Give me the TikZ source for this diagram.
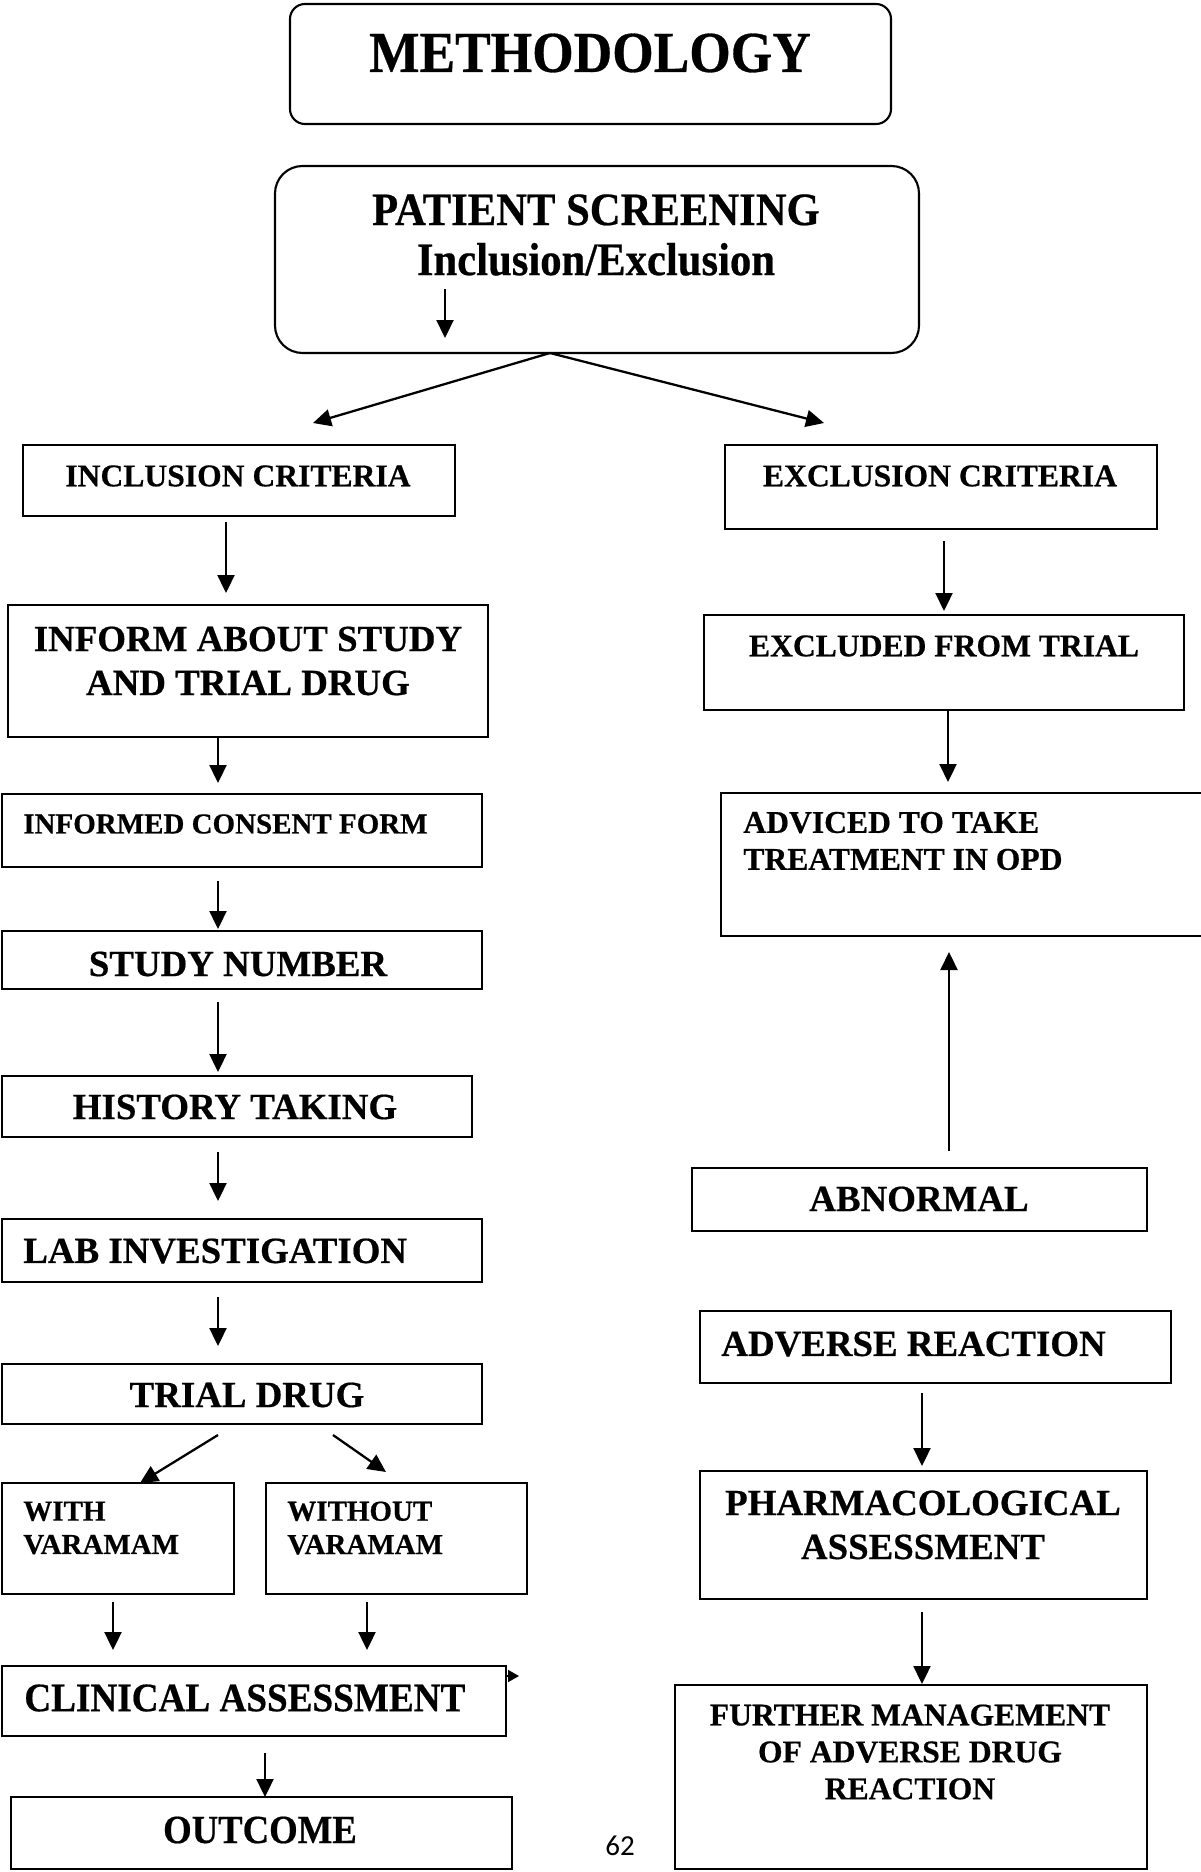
\documentclass[tikz,border=0pt]{standalone}
\usepackage{fontspec}
\setmainfont{Liberation Serif}[BoldFeatures={FakeBold=0.5}]
\newfontfamily\narrowfont{Liberation Serif}[FakeStretch=0.92, BoldFeatures={FakeBold=0.5}]
\newfontfamily\pagefont{Carlito}
\usetikzlibrary{arrows.meta}

\tikzset{
  boxframe/.style={draw=black, line width=1.2pt, inner sep=0pt, outer sep=0pt},
  txt/.style={inner sep=0pt},
  big/.style={font=\bfseries\fontsize{21}{25}\selectfont},
  mid/.style={font=\bfseries\fontsize{18}{21}\selectfont},
  small/.style={font=\bfseries\fontsize{16.5}{19}\selectfont},
  arr/.style={-{Triangle[length=0.36cm, width=0.34cm]}, line width=1.3pt},
}
% box: [options], name, left, top, width, height (pixels)
\newcommand{\flowbox}[6][]{%
  \node[boxframe, #1, anchor=north west, minimum width=#5*0.02cm,
        minimum height=#6*0.02cm] (#2) at (#3,#4) {};
}
% vertical arrow: x, from anchor, to anchor, gap at tail, gap at tip
\newcommand{\vlink}[5]{%
  \draw[arr, shorten <=#4*0.02cm, shorten >=#5*0.02cm] (#1,0 |- #2) -- (#1,0 |- #3);
}

\begin{document}
\begin{tikzpicture}[x=0.02cm, y=-0.02cm]
  \useasboundingbox (0,0) rectangle (1200,1872);
  % Boxes
  \flowbox[rounded corners=0.3cm]{meth}{290}{4}{601}{120}
  \flowbox[rounded corners=0.55cm]{scr}{275}{166}{644}{187}
  \flowbox{inc}{23}{445}{432}{71}
  \flowbox{inform}{8}{605}{480}{132}
  \flowbox{icf}{2}{794}{480}{73}
  \flowbox{sn}{2}{931}{480}{58}
  \flowbox{ht}{2}{1076}{470}{61}
  \flowbox{lab}{2}{1219}{480}{63}
  \flowbox{trial}{2}{1364}{480}{60}
  \flowbox{with}{2}{1483}{232}{111}
  \flowbox{wout}{266}{1483}{261}{111}
  \flowbox{clin}{2}{1666}{504}{70}
  \flowbox{out}{11}{1797}{501}{72}
  \flowbox{exc}{725}{445}{432}{84}
  \flowbox{excl}{704}{615}{480}{95}
  \flowbox{adv}{721}{793}{490}{143}
  \flowbox{abn}{692}{1168}{455}{63}
  \flowbox{advr}{700}{1311}{471}{72}
  \flowbox{pharma}{700}{1471}{447}{128}
  \flowbox{further}{675}{1685}{472}{184}
  % Texts
  \node[txt, font=\narrowfont\bfseries\fontsize{33}{36}\selectfont] (methT) at (590,53) {METHODOLOGY};
  \node[txt, align=center, font=\narrowfont\bfseries\fontsize{26.4}{28.5}\selectfont] (scrT) at (596,235) {PATIENT SCREENING\\Inclusion/Exclusion};
  \node[txt, mid] (incT) at (238,476) {INCLUSION CRITERIA};
  \node[txt, big, align=center] (informT) at (248,661) {INFORM ABOUT STUDY\\AND TRIAL DRUG};
  \node[txt, small, anchor=west] (icfT) at (23,824) {INFORMED CONSENT FORM};
  \node[txt, big] (snT) at (238,964) {STUDY NUMBER};
  \node[txt, big] (htT) at (235,1107) {HISTORY TAKING};
  \node[txt, big, anchor=west] (labT) at (23,1251) {LAB INVESTIGATION};
  \node[txt, big] (trialT) at (247,1395) {TRIAL DRUG};
  \node[txt, small, align=left, anchor=west] (withT) at (23,1528) {WITH\\VARAMAM};
  \node[txt, small, align=left, anchor=west] (woutT) at (287,1528) {WITHOUT\\VARAMAM};
  \node[txt, anchor=west, font=\narrowfont\bfseries\fontsize{23}{26}\selectfont] (clinT) at (24,1698) {CLINICAL ASSESSMENT};
  \node[txt, font=\narrowfont\bfseries\fontsize{22.7}{26}\selectfont] (outT) at (260,1830) {OUTCOME};
  \node[txt, font=\pagefont\fontsize{16.5}{19}\selectfont] (pg) at (620,1846) {62};
  \node[txt, mid] (excT) at (940,476) {EXCLUSION CRITERIA};
  \node[txt, mid] (exclT) at (944,646) {EXCLUDED FROM TRIAL};
  \node[txt, mid, align=left, anchor=west] (advT) at (743,841) {ADVICED TO TAKE\\TREATMENT IN OPD};
  \node[txt, big] (abnT) at (919,1199) {ABNORMAL};
  \node[txt, big, anchor=west] (advrT) at (721,1344) {ADVERSE REACTION};
  \node[txt, big, align=center] (pharmaT) at (923,1525) {PHARMACOLOGICAL\\ASSESSMENT};
  \node[txt, mid, align=center] (furtherT) at (910,1752) {FURTHER MANAGEMENT\\OF ADVERSE DRUG\\REACTION};
  % Free arrow ends
  \coordinate (scrTail) at (445,289);
  \coordinate (scrTip) at (445,338);
  \coordinate (splitL) at (313,423);
  \coordinate (splitR) at (824,423);
  \coordinate (drugL) at (218,1435);
  \coordinate (drugR) at (333,1435);
  \coordinate (woutTip) at (386,1472);
  % Arrows
  \draw[arr] (scrTail) -- (scrTip);
  \draw[arr] (550,0 |- scr.south) -- (splitL);
  \draw[arr] (550,0 |- scr.south) -- (splitR);
  \vlink{226}{inc.south}{inform.north}{6}{12}
  \vlink{218}{inform.south}{icf.north}{0}{11}
  \vlink{218}{icf.south}{sn.north}{14}{2}
  \vlink{218}{sn.south}{ht.north}{13}{4}
  \vlink{218}{ht.south}{lab.north}{15}{18}
  \vlink{218}{lab.south}{trial.north}{15}{18}
  \draw[arr] (drugL) -- (140,0 |- with.north);
  \draw[arr] (drugR) -- (woutTip);
  \vlink{113}{with.south}{clin.north}{8}{16}
  \vlink{367}{wout.south}{clin.north}{8}{16}
  \draw[line width=1pt, -{Triangle[length=0.22cm, width=0.24cm]}] ([yshift=-0.2cm]clin.north east) -- ++(0.26cm,0);
  \vlink{265}{clin.south}{out.north}{17}{0}
  \vlink{944}{exc.south}{excl.north}{12}{4}
  \vlink{948}{excl.south}{adv.north}{0}{11}
  \vlink{949}{abn.north}{adv.south}{17}{16}
  \vlink{922}{advr.south}{pharma.north}{10}{5}
  \vlink{922}{pharma.south}{further.north}{13}{1}
\end{tikzpicture}
\end{document}
